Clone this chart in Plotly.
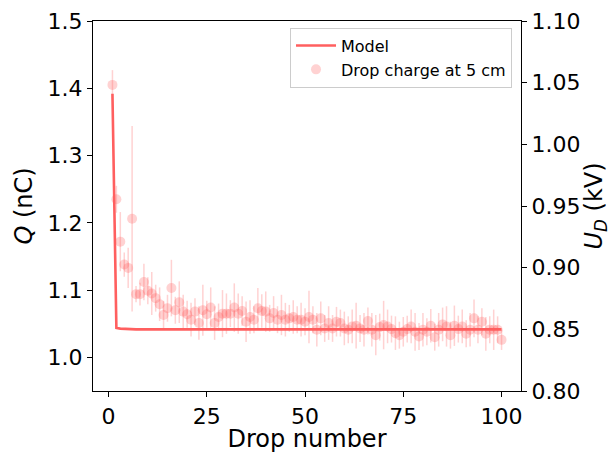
import plotly.graph_objects as go

# drop index
drop_number = list(range(1, 101))

charge = [
    1.405, 1.235, 1.172, 1.138, 1.133, 1.206, 1.094, 1.094, 1.112, 1.099,
    1.095, 1.088, 1.079, 1.063, 1.073, 1.103, 1.070, 1.082, 1.068, 1.064,
    1.056, 1.068, 1.051, 1.070, 1.064, 1.074, 1.051, 1.060, 1.065, 1.065,
    1.065, 1.074, 1.065, 1.069, 1.053, 1.060, 1.056, 1.073, 1.069, 1.068,
    1.058, 1.066, 1.056, 1.063, 1.056, 1.058, 1.060, 1.056, 1.056, 1.053,
    1.060, 1.056, 1.041, 1.058, 1.043, 1.051, 1.043, 1.053, 1.051, 1.043,
    1.041, 1.046, 1.047, 1.043, 1.041, 1.054, 1.041, 1.033, 1.045, 1.048,
    1.046, 1.042, 1.036, 1.033, 1.038, 1.042, 1.046, 1.038, 1.031, 1.041,
    1.038, 1.047, 1.030, 1.041, 1.049, 1.046, 1.033, 1.047, 1.042, 1.046,
    1.035, 1.041, 1.058, 1.041, 1.053, 1.035, 1.041, 1.041, 1.041, 1.026,
]
charge_err = [
    0.022, 0.020, 0.044, 0.018, 0.030, 0.138, 0.012, 0.017, 0.027, 0.020,
    0.032, 0.020, 0.025, 0.021, 0.020, 0.042, 0.020, 0.031, 0.025, 0.020,
    0.025, 0.020, 0.025, 0.038, 0.020, 0.030, 0.025, 0.020, 0.035, 0.030,
    0.020, 0.036, 0.030, 0.022, 0.030, 0.025, 0.020, 0.030, 0.025, 0.030,
    0.020, 0.025, 0.020, 0.030, 0.025, 0.020, 0.025, 0.020, 0.025, 0.020,
    0.039, 0.020, 0.025, 0.025, 0.020, 0.025, 0.020, 0.022, 0.020, 0.025,
    0.020, 0.025, 0.034, 0.020, 0.025, 0.020, 0.025, 0.030, 0.020, 0.036,
    0.025, 0.020, 0.025, 0.020, 0.022, 0.020, 0.025, 0.028, 0.020, 0.025,
    0.020, 0.025, 0.020, 0.025, 0.025, 0.030, 0.020, 0.030, 0.020, 0.025,
    0.020, 0.025, 0.028, 0.020, 0.020, 0.025, 0.020, 0.030, 0.020, 0.015,
]

# model drop voltage (kV), right axis
model_voltage = [1.041, 0.8511, 0.8506, 0.8503, 0.8502, 0.8501] + [0.850] * 94

FONT = "DejaVu Sans"
red = "rgb(255,95,95)"
pink = "rgba(255,95,95,0.28)"

fig = go.Figure()

fig.add_trace(
    go.Scatter(
        x=drop_number,
        y=model_voltage,
        mode="lines",
        name="Model",
        line=dict(color=red, width=2.6),
        yaxis="y2",
    )
)

fig.add_trace(
    go.Scatter(
        x=drop_number,
        y=charge,
        mode="markers",
        name="Drop charge at 5 cm",
        marker=dict(color=pink, size=10, line=dict(width=0)),
        error_y=dict(type="data", array=charge_err, color=pink, thickness=1.5, width=0),
    )
)

axis_common = dict(
    showline=True,
    linecolor="black",
    linewidth=1.2,
    ticks="outside",
    ticklen=5,
    tickwidth=1.2,
    tickcolor="black",
    showgrid=False,
    zeroline=False,
    automargin=False,
    tickfont=dict(family=FONT, size=22, color="black"),
)

fig.update_layout(
    width=611,
    height=453,
    margin=dict(l=93, r=90, t=21, b=62),
    plot_bgcolor="white",
    paper_bgcolor="white",
    font=dict(family=FONT, color="black"),
    showlegend=True,
    legend=dict(
        x=0.979,
        y=0.982,
        xanchor="right",
        yanchor="top",
        bgcolor="rgba(255,255,255,0.8)",
        bordercolor="#cccccc",
        borderwidth=1,
        itemwidth=40,
        font=dict(family=FONT, size=16, color="black"),
        tracegroupgap=0,
    ),
    xaxis=dict(
        axis_common,
        range=[-3.95, 104.95],
        tickvals=[0, 25, 50, 75, 100],
        mirror=True,
        title=dict(text="Drop number", font=dict(family=FONT, size=24), standoff=8),
    ),
    yaxis=dict(
        axis_common,
        range=[0.95, 1.5],
        tickvals=[1.0, 1.1, 1.2, 1.3, 1.4, 1.5],
        tickformat=".1f",
        title=dict(text="<i>Q</i> (nC)", font=dict(family=FONT, size=24), standoff=8),
    ),
    yaxis2=dict(
        axis_common,
        range=[0.80, 1.10],
        tickvals=[0.80, 0.85, 0.90, 0.95, 1.00, 1.05, 1.10],
        tickformat=".2f",
        overlaying="y",
        side="right",
        title=dict(text="<i>U</i><sub><i>D</i></sub> (kV)", font=dict(family=FONT, size=24), standoff=10),
    ),
)

# drop the browser's default page margin so the figure sits at the window origin
fig.write_html(
    "out.html",
    config={"displayModeBar": False},
    post_script="document.body.style.margin = '0';",
)
